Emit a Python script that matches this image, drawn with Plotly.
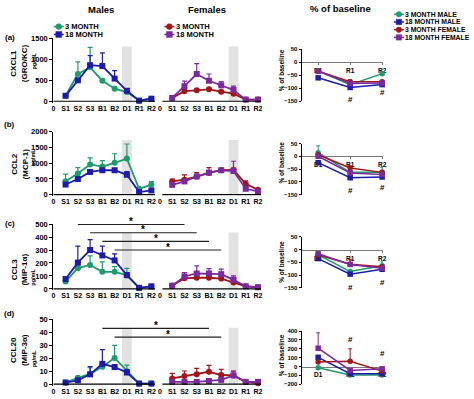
import plotly.graph_objects as go

W, H = 474, 399

# ---------------- data ----------------
timepoints = ["S1", "S2", "S3", "B1", "B2", "D1", "R1", "R2"]
pct_points = ["D1", "R1", "R2"]
cytokines = ["CXCL1<br>(GRO/KC)", "CCL2<br>(MCP-1)", "CCL3<br>(MIP-1α)", "CCL20<br>(MIP-3α)"]
row_labels = ["(a)", "(b)", "(c)", "(d)"]

# CXCL1 (pg/mL): mean and upper error
cxcl1_m3 = [130, 650, 810, 490, 300, 220, 15, 60]
cxcl1_m3_err = [30, 290, 475, 40, 30, 30, 5, 10]
cxcl1_m18 = [130, 500, 860, 840, 540, 250, 15, 60]
cxcl1_m18_err = [30, 40, 230, 315, 190, 50, 5, 20]
cxcl1_f3 = [80, 240, 260, 285, 230, 180, 40, 40]
cxcl1_f3_err = [10, 30, 30, 30, 20, 20, 5, 5]
cxcl1_f18 = [80, 360, 650, 490, 380, 270, 40, 40]
cxcl1_f18_err = [10, 120, 250, 160, 90, 90, 5, 5]

# CCL2
ccl2_m3 = [425, 670, 960, 890, 1010, 1145, 185, 320]
ccl2_m3_err = [225, 185, 205, 190, 290, 465, 30, 90]
ccl2_m18 = [320, 495, 720, 775, 775, 630, 80, 135]
ccl2_m18_err = [40, 40, 40, 40, 40, 100, 20, 20]
ccl2_f3 = [420, 475, 575, 690, 775, 785, 340, 155]
ccl2_f3_err = [75, 155, 125, 165, 50, 60, 100, 30]
ccl2_f18 = [310, 420, 575, 700, 775, 750, 185, 100]
ccl2_f18_err = [40, 60, 60, 60, 40, 310, 30, 20]

# CCL3
ccl3_m3 = [58, 160, 185, 132, 132, 106, 8, 18]
ccl3_m3_err = [10, 20, 70, 76, 40, 52, 3, 5]
ccl3_m18 = [76, 203, 300, 258, 220, 106, 8, 20]
ccl3_m18_err = [10, 127, 80, 72, 50, 20, 3, 5]
ccl3_f3 = [25, 82, 86, 86, 80, 50, 20, 13]
ccl3_f3_err = [5, 10, 15, 15, 15, 10, 5, 3]
ccl3_f18 = [25, 96, 119, 119, 114, 70, 20, 13]
ccl3_f18_err = [5, 30, 58, 38, 38, 30, 5, 3]

# CCL20
ccl20_m3 = [1.3, 5, 8, 13.5, 20.3, 10, 0.5, 0.5]
ccl20_m3_err = [0.3, 1, 4.7, 3, 9.7, 4.7, 0.2, 0.2]
ccl20_m18 = [1.3, 3, 7.6, 15.7, 13.2, 9, 0.5, 0.5]
ccl20_m18_err = [0.3, 1, 5.9, 10.9, 2, 2, 0.2, 0.2]
ccl20_f3 = [4.5, 6.3, 7.6, 9.6, 7.1, 6.8, 1.8, 0.8]
ccl20_f3_err = [3.9, 3.9, 4.6, 4.9, 4.3, 3.4, 0.5, 0.5]
ccl20_f18 = [1.8, 1.8, 1.8, 2.5, 3.3, 6.8, 1.8, 1.8]
ccl20_f18_err = [0.3, 0.3, 0.3, 0.5, 0.5, 3.2, 0.3, 0.3]

# % of baseline (D1, R1, R2)
pct_cxcl1_m3, pct_cxcl1_m3_err = [-33, -86, -44], [5, 5, 8]
pct_cxcl1_m18, pct_cxcl1_m18_err = [-60, -97, -86], [5, 5, 5]
pct_cxcl1_f3, pct_cxcl1_f3_err = [-35, -75, -75], [5, 8, 5]
pct_cxcl1_f18, pct_cxcl1_f18_err = [-35, -82, -80], [5, 5, 5]

pct_ccl2_m3, pct_ccl2_m3_err = [14, -63, -63], [27, 5, 20]
pct_ccl2_m18, pct_ccl2_m18_err = [-25, -84, -81], [8, 5, 5]
pct_ccl2_f3, pct_ccl2_f3_err = [6, -46, -63], [5, 8, 5]
pct_ccl2_f18, pct_ccl2_f18_err = [0, -65, -71], [5, 5, 5]

pct_ccl3_m3, pct_ccl3_m3_err = [-20, -86, -63], [5, 5, 15]
pct_ccl3_m18, pct_ccl3_m18_err = [-35, -96, -77], [5, 5, 5]
pct_ccl3_f3, pct_ccl3_f3_err = [-20, -57, -67], [5, 19, 5]
pct_ccl3_f18, pct_ccl3_f18_err = [-16, -58, -73], [5, 5, 5]

pct_ccl20_m3, pct_ccl20_m3_err = [-15, -96, -96], [5, 5, 5]
pct_ccl20_m18, pct_ccl20_m18_err = [104, -81, -81], [20, 5, 5]
pct_ccl20_f3, pct_ccl20_f3_err = [52, 59, -52], [10, 141, 10]
pct_ccl20_f18, pct_ccl20_f18_err = [207, -44, -26], [174, 10, 10]

# significance brackets (male timepoint -> female timepoint, bracket level)
sig_c_pairs = [("S2", "S2"), ("S3", "S3"), ("B1", "B1"), ("B2", "B2")]
sig_c_levels = [497, 433, 367, 300]
sig_d_pairs = [("B1", "B1"), ("B2", "B2")]
sig_d_levels = [43, 36.3]

# '#' markers on % of baseline panels at R1, R2
hash_levels = [[-142, -116], [-134, -124], [-147, -128], [300, 144]]

series_names = ["3 MONTH MALE", "18 MONTH MALE", "3 MONTH FEMALE", "18 MONTH FEMALE"]

# ---------------- styling / geometry ----------------
GREEN = "#1f9b6e"
BLUE = "#1c1ca8"
RED = "#a0151a"
PURPLE = "#7b2a9e"
colors = [GREEN, BLUE, RED, PURPLE]
symbols = ["circle", "square", "circle", "square"]
FONT = "Arial, Liberation Sans, sans-serif"

FEMALE_OFFSET = 8.7
male_x = [i + 1 for i in range(len(timepoints))]
female_x = [FEMALE_OFFSET + i + 1 for i in range(len(timepoints))]
tickvals = [0] + male_x + [FEMALE_OFFSET] + female_x
ticktext = ["0"] + timepoints + ["0"] + timepoints
pct_x = [1, 2, 3]


def fx(p):
    return p / W


def fy(p):
    return 1 - p / H


left_rows = [(35, 99), (130, 194), (224, 290), (321, 387)]   # (top px, zero px)
right_rows = [(46, 99), (142, 194), (237, 289), (333, 387)]  # (top px, bottom px)
left_max = [1500, 2000, 500, 50]
left_step = [500, 500, 100, 10]
right_ranges = [(-150, 50), (-150, 50), (-150, 50), (-200, 400)]
right_step = [50, 50, 50, 100]
PAD = 0.02

left_data = [
    [(cxcl1_m3, cxcl1_m3_err), (cxcl1_m18, cxcl1_m18_err), (cxcl1_f3, cxcl1_f3_err), (cxcl1_f18, cxcl1_f18_err)],
    [(ccl2_m3, ccl2_m3_err), (ccl2_m18, ccl2_m18_err), (ccl2_f3, ccl2_f3_err), (ccl2_f18, ccl2_f18_err)],
    [(ccl3_m3, ccl3_m3_err), (ccl3_m18, ccl3_m18_err), (ccl3_f3, ccl3_f3_err), (ccl3_f18, ccl3_f18_err)],
    [(ccl20_m3, ccl20_m3_err), (ccl20_m18, ccl20_m18_err), (ccl20_f3, ccl20_f3_err), (ccl20_f18, ccl20_f18_err)],
]
right_data = [
    [(pct_cxcl1_m3, pct_cxcl1_m3_err), (pct_cxcl1_m18, pct_cxcl1_m18_err), (pct_cxcl1_f3, pct_cxcl1_f3_err), (pct_cxcl1_f18, pct_cxcl1_f18_err)],
    [(pct_ccl2_m3, pct_ccl2_m3_err), (pct_ccl2_m18, pct_ccl2_m18_err), (pct_ccl2_f3, pct_ccl2_f3_err), (pct_ccl2_f18, pct_ccl2_f18_err)],
    [(pct_ccl3_m3, pct_ccl3_m3_err), (pct_ccl3_m18, pct_ccl3_m18_err), (pct_ccl3_f3, pct_ccl3_f3_err), (pct_ccl3_f18, pct_ccl3_f18_err)],
    [(pct_ccl20_m3, pct_ccl20_m3_err), (pct_ccl20_m18, pct_ccl20_m18_err), (pct_ccl20_f3, pct_ccl20_f3_err), (pct_ccl20_f18, pct_ccl20_f18_err)],
]

fig = go.Figure()
layout = dict(
    width=W, height=H, autosize=False,
    margin=dict(l=0, r=0, t=0, b=0),
    paper_bgcolor="white", plot_bgcolor="white",
    font=dict(family=FONT, color="black"),
    showlegend=False,
)
shapes = []
annotations = []


def axname(kind, n):
    return kind + "axis" + ("" if n == 1 else str(n))


def axref(kind, n):
    return kind + ("" if n == 1 else str(n))


def paper_text(x, y, txt, size, angle=0, xanchor="center"):
    annotations.append(dict(xref="paper", yref="paper", x=fx(x), y=fy(y),
                            xanchor=xanchor, yanchor="middle",
                            text="<b>" + txt + "</b>", showarrow=False, textangle=angle,
                            font=dict(size=size)))


for r in range(4):
    nl = 2 * r + 1
    nr = 2 * r + 2
    xl, yl = axref("x", nl), axref("y", nl)
    xr, yr = axref("x", nr), axref("y", nr)

    # ---- left panel axes ----
    top, zero = left_rows[r]
    bottom = zero + PAD * (zero - top)
    ymax = left_max[r]
    layout[axname("x", nl)] = dict(
        domain=[fx(52), fx(263)], range=[0, 17], anchor=yl,
        showline=False, showgrid=False, zeroline=False, ticks="",
        tickvals=tickvals, ticktext=ticktext, tickangle=0,
        tickfont=dict(size=7, weight="bold"),
    )
    layout[axname("y", nl)] = dict(
        domain=[fy(bottom), fy(top)], range=[-PAD * ymax, ymax], anchor=xl,
        showline=True, linecolor="black", linewidth=1.2,
        showgrid=False, zeroline=False, ticks="outside", ticklen=3,
        tickwidth=1.2, tickcolor="black",
        tickvals=list(range(0, ymax + 1, left_step[r])),
        tickfont=dict(size=7.5, weight="bold"),
    )

    # grey dosing band around D1 (male & female)
    d1_idx = timepoints.index("D1")
    for cx in (male_x[d1_idx], female_x[d1_idx]):
        shapes.append(dict(type="rect", xref=xl, yref=yl, x0=cx - 0.4, x1=cx + 0.4,
                           y0=0, y1=0.87 * ymax, fillcolor="#e2e2e2",
                           line=dict(width=0), layer="below"))
    # x baselines (male / female segments)
    shapes.append(dict(type="line", xref=xl, yref=yl, x0=0, x1=male_x[-1] + 0.3, y0=0, y1=0,
                       line=dict(color="black", width=1.2)))
    shapes.append(dict(type="line", xref=xl, yref=yl, x0=FEMALE_OFFSET + 0.2, x1=female_x[-1] + 0.25,
                       y0=0, y1=0, line=dict(color="black", width=1.2)))

    for k, (vals, errs) in enumerate(left_data[r]):
        xs = male_x if k < 2 else female_x
        fig.add_trace(go.Scatter(
            x=xs, y=vals, xaxis=xl, yaxis=yl, mode="lines+markers",
            name=series_names[k], cliponaxis=False,
            line=dict(color=colors[k], width=1.8),
            marker=dict(symbol=symbols[k], size=6, color=colors[k]),
            error_y=dict(type="data", symmetric=False, array=errs,
                         arrayminus=[0] * len(errs), color=colors[k],
                         thickness=1.2, width=2.5),
        ))

    # ---- right panel axes ----
    rtop, rbot = right_rows[r]
    ymin_r, ymax_r = right_ranges[r]
    d0, d1 = fy(rbot), fy(rtop)
    zero_pos = d0 + (0 - ymin_r) / (ymax_r - ymin_r) * (d1 - d0)
    layout[axname("x", nr)] = dict(
        domain=[fx(304), fx(386)], range=[0.5, 3.03], anchor="free", position=zero_pos,
        showline=True, linecolor="#7a7a7a", linewidth=1.2, showgrid=False, zeroline=False,
        ticks="outside", ticklen=2, tickcolor="#7a7a7a", tickangle=0,
        tickvals=pct_x, ticktext=pct_points,
        tickfont=dict(size=6.5, weight="bold"), layer="below traces",
    )
    layout[axname("y", nr)] = dict(
        domain=[d0, d1], range=[ymin_r, ymax_r], anchor=xr,
        showline=True, linecolor="black", linewidth=1, showgrid=False, zeroline=False,
        ticks="outside", ticklen=2.5, tickcolor="black",
        tickvals=list(range(ymin_r, ymax_r + 1, right_step[r])),
        tickfont=dict(size=6, weight="bold"),
    )
    for k, (vals, errs) in enumerate(right_data[r]):
        fig.add_trace(go.Scatter(
            x=pct_x, y=vals, xaxis=xr, yaxis=yr, mode="lines+markers",
            name=series_names[k], cliponaxis=False,
            line=dict(color=colors[k], width=1.5),
            marker=dict(symbol=symbols[k], size=5.5, color=colors[k]),
            error_y=dict(type="data", symmetric=False, array=errs,
                         arrayminus=[0] * len(errs), color=colors[k],
                         thickness=1, width=2),
        ))
    for xi, hv in zip(pct_x[1:], hash_levels[r]):
        annotations.append(dict(xref=xr, yref=yr, x=xi, y=hv, xanchor="center", yanchor="middle",
                                text="<b>#</b>", showarrow=False, font=dict(size=8)))

    # row labels and titles
    paper_text(8, [34, 123, 223, 315][r], row_labels[r], 8)
    paper_text(17.5, [60, 163, 270, 352][r], cytokines[r], 8, angle=-90)
    paper_text(32, [58, 156, 278, 361][r], "pg/mL", 5.5, angle=-90)
    paper_text(283, [67, 161, 262, 357][r], "% of baseline", 6.5, angle=-90)

# significance brackets
for r, pairs, levels in ((2, sig_c_pairs, sig_c_levels), (3, sig_d_pairs, sig_d_levels)):
    xl, yl = axref("x", 2 * r + 1), axref("y", 2 * r + 1)
    for (a, b), lv in zip(pairs, levels):
        x0 = male_x[timepoints.index(a)]
        x1 = female_x[timepoints.index(b)]
        shapes.append(dict(type="line", xref=xl, yref=yl, x0=x0, x1=x1, y0=lv, y1=lv,
                           line=dict(color="#222222", width=1.2)))
        annotations.append(dict(xref=xl, yref=yl, x=(x0 + x1) / 2, y=lv, yshift=3,
                                xanchor="center", yanchor="middle",
                                text="<b>*</b>", showarrow=False, font=dict(size=10)))

# headers
paper_text(100, 6, "Males", 9.5)
paper_text(208, 6, "Females", 9.5)
paper_text(343, 5, "% of baseline", 9.5)


# custom compact legends
def legend_key(cx, cy, color, symbol, size=6):
    shapes.append(dict(type="line", xref="paper", yref="paper", x0=fx(cx - 5), x1=fx(cx + 5),
                       y0=fy(cy), y1=fy(cy), line=dict(color=color, width=1.5)))
    h = size / 2
    shapes.append(dict(type="circle" if symbol == "circle" else "rect", xref="paper", yref="paper",
                       x0=fx(cx - h), x1=fx(cx + h), y0=fy(cy + h), y1=fy(cy - h),
                       fillcolor=color, line=dict(color=color, width=0.5)))


legend_key(57.5, 23, GREEN, "circle")
legend_key(57.5, 31, BLUE, "square")
paper_text(62, 23, "3 MONTH", 7.5, xanchor="left")
paper_text(62, 31, "18 MONTH", 7.5, xanchor="left")
legend_key(169.5, 23, RED, "circle")
legend_key(169.5, 31, PURPLE, "square")
paper_text(174, 23, "3 MONTH", 7.5, xanchor="left")
paper_text(174, 31, "18 MONTH", 7.5, xanchor="left")
for k, yy in enumerate([10.5, 18.3, 26.2, 34]):
    legend_key(402, yy, colors[k], symbols[k], size=5.5)
    paper_text(406, yy, series_names[k], 6.8, xanchor="left")

layout["shapes"] = shapes
layout["annotations"] = annotations
fig.update_layout(**layout)
fig.write_html("out.html", config={"displayModeBar": False},
               post_script="document.body.style.margin='0';document.body.style.padding='0';")
